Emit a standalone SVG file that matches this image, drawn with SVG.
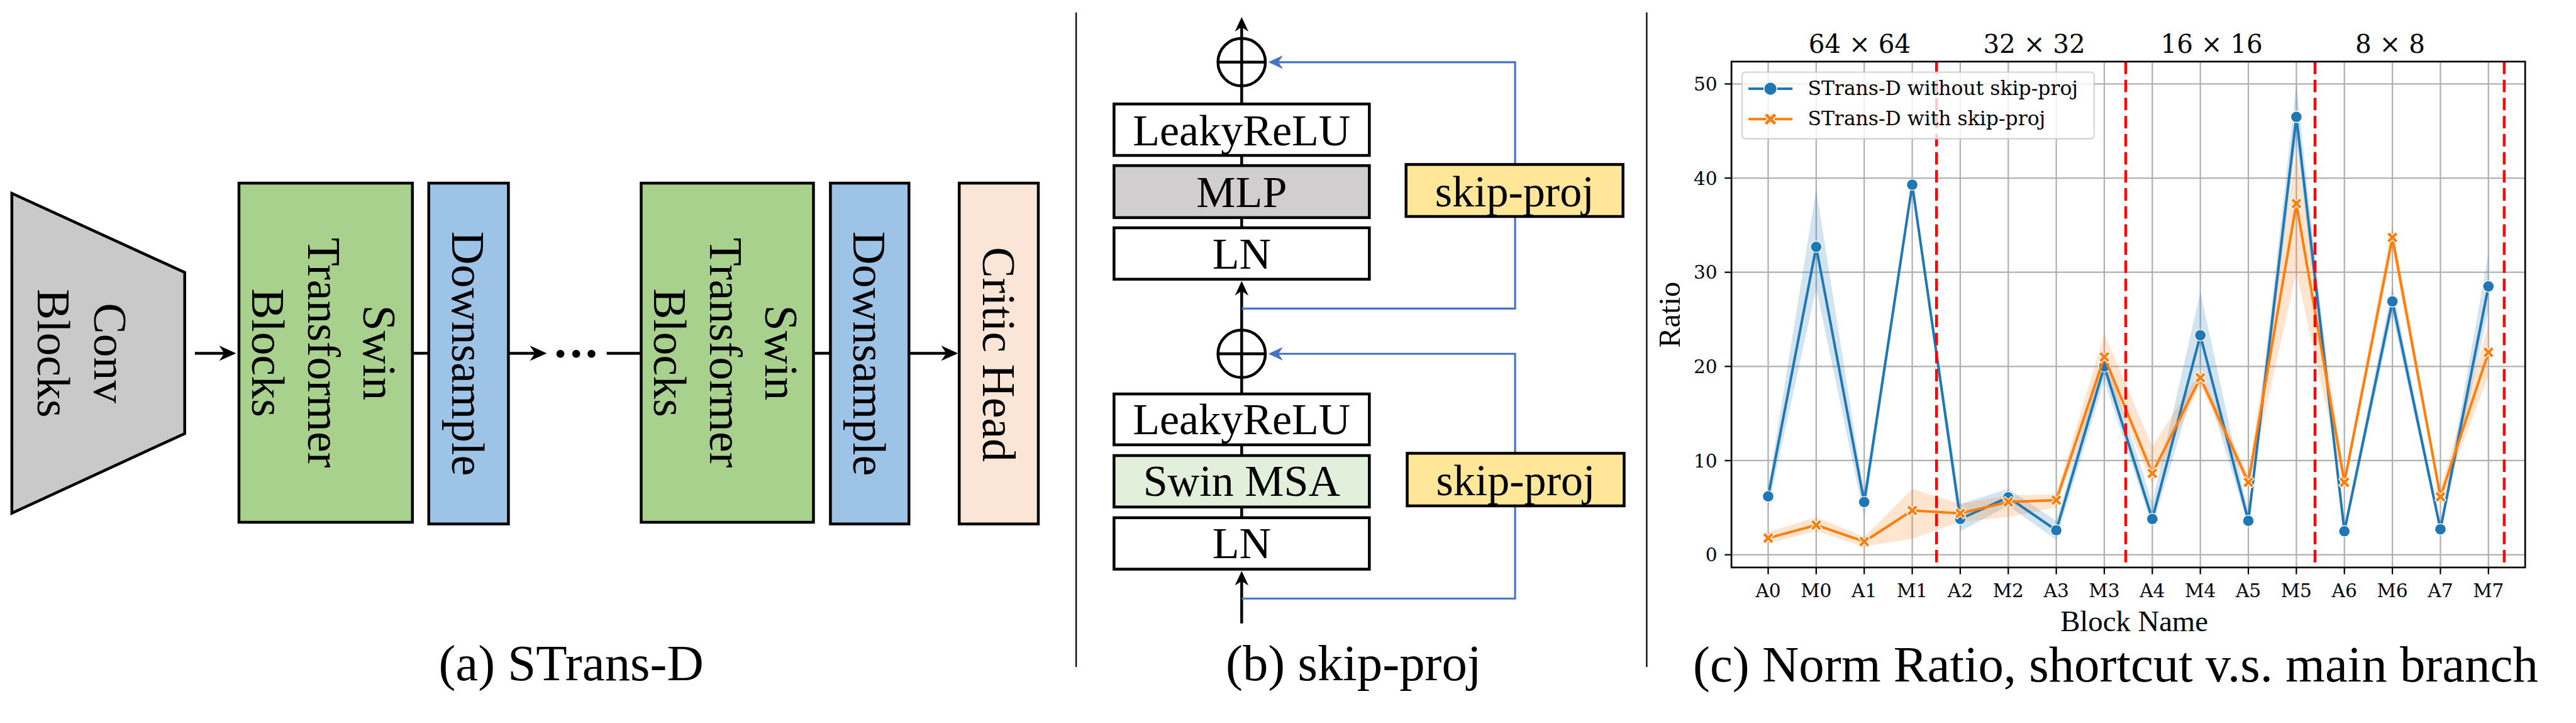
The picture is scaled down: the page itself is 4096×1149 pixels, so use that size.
<svg xmlns="http://www.w3.org/2000/svg" width="4096" height="1149" viewBox="0 0 4096 1149">
<defs>
<style>
.serif{font-family:"Liberation Serif","Times New Roman",serif;fill:#000}
.dv{font-family:"DejaVu Serif",serif;fill:#000}
.bx{stroke:#000;stroke-width:5}
.ln{stroke:#000;stroke-width:5;fill:none}
.bl{stroke:#4472c4;stroke-width:3.5;fill:none}
.grid{stroke:#b0b0b0;stroke-width:2.5}
.red{stroke:#ff0000;stroke-width:5;stroke-dasharray:22 10}
.blab{font-size:82px}
.plab{font-size:78px}
.cap{font-size:90px}
.tick{font-size:33px}
</style>
<marker id="ahA" markerUnits="userSpaceOnUse" viewBox="-12 -15 34 30" refX="0" refY="0" markerWidth="34" markerHeight="30" orient="auto"><path d="M20,0 L-10,-13.5 L-1,0 L-10,13.5 Z" fill="#000"/></marker>
<marker id="ahB" markerUnits="userSpaceOnUse" viewBox="-10 -14 30 28" refX="0" refY="0" markerWidth="30" markerHeight="28" orient="auto"><path d="M18,0 L-8,-12 L0,0 L-8,12 Z" fill="#000"/></marker>
<marker id="ahC" markerUnits="userSpaceOnUse" viewBox="-10 -14 30 28" refX="0" refY="0" markerWidth="30" markerHeight="28" orient="auto"><path d="M18,0 L-8,-12 L0,0 L-8,12 Z" fill="#4472c4"/></marker>
<path id="xm" d="M-10,-5.5 L-5.5,-10 L0,-4.5 L5.5,-10 L10,-5.5 L4.5,0 L10,5.5 L5.5,10 L0,4.5 L-5.5,10 L-10,5.5 L-4.5,0 Z" fill="#ff7f0e" stroke="#fff" stroke-width="1.5"/>
<circle id="cm" r="10" fill="#1f77b4" stroke="#fff" stroke-width="1.5"/>
</defs>
<rect x="0" y="0" width="4096" height="1149" fill="#fff"/>
<g transform="scale(0.898246)">

<!-- ===== Panel (a) connectors ===== -->
<g id="connectors-a">
<path class="ln" d="M345,625 H398" marker-end="url(#ahA)"/>
<path class="ln" d="M730,625 H759"/>
<path class="ln" d="M900,625 H948" marker-end="url(#ahA)"/>
<circle cx="992" cy="626" r="7" fill="#000"/>
<circle cx="1020" cy="626" r="7" fill="#000"/>
<circle cx="1047" cy="626" r="7" fill="#000"/>
<path class="ln" d="M1074,625 H1135"/>
<path class="ln" d="M1440,625 H1470"/>
<path class="ln" d="M1609,625 H1676" marker-end="url(#ahA)"/>
</g>

<!-- ===== Panel (a) nodes ===== -->
<g id="n-conv">
<polygon class="bx" points="21,342 327,482 327,767 21,908" fill="#c9c9c9"/>
<text class="serif blab" text-anchor="middle" transform="translate(167,625) rotate(90)">Conv</text>
<text class="serif blab" text-anchor="middle" transform="translate(67,625) rotate(90)">Blocks</text>
</g>
<g id="n-swin1">
<rect class="bx" x="423" y="324" width="307" height="600" fill="#a9d18e"/>
<text class="serif blab" text-anchor="middle" transform="translate(643,624) rotate(90)">Swin</text>
<text class="serif blab" text-anchor="middle" transform="translate(545,624) rotate(90)">Transformer</text>
<text class="serif blab" text-anchor="middle" transform="translate(446,624) rotate(90)">Blocks</text>
</g>
<g id="n-down1">
<rect class="bx" x="759" y="324" width="141" height="603" fill="#9dc3e6"/>
<text class="serif blab" text-anchor="middle" transform="translate(801,625.5) rotate(90)">Downsample</text>
</g>
<g id="n-swin2">
<rect class="bx" x="1135" y="324" width="305" height="600" fill="#a9d18e"/>
<text class="serif blab" text-anchor="middle" transform="translate(1355,624) rotate(90)">Swin</text>
<text class="serif blab" text-anchor="middle" transform="translate(1257,624) rotate(90)">Transformer</text>
<text class="serif blab" text-anchor="middle" transform="translate(1158,624) rotate(90)">Blocks</text>
</g>
<g id="n-down2">
<rect class="bx" x="1470" y="324" width="139" height="603" fill="#9dc3e6"/>
<text class="serif blab" text-anchor="middle" transform="translate(1511,625.5) rotate(90)">Downsample</text>
</g>
<g id="n-critic">
<rect class="bx" x="1698" y="324" width="140" height="603" fill="#fbe5d6"/>
<text class="serif blab" text-anchor="middle" transform="translate(1740,627) rotate(90)">Critic Head</text>
</g>
<text class="serif cap" x="1011" y="1203" text-anchor="middle">(a) STrans-D</text>

<!-- dividers -->
<line x1="1905" y1="22" x2="1905" y2="1180" stroke="#000" stroke-width="2.5"/>
<line x1="2915" y1="22" x2="2915" y2="1180" stroke="#000" stroke-width="2.5"/>

<!-- ===== Panel (b) connectors ===== -->
<g id="connectors-b">
<path class="ln" d="M2198,1103 V1028" marker-end="url(#ahB)"/>
<path class="ln" d="M2198,916 V515" marker-end="url(#ahB)"/>
<path class="ln" d="M2198,403 V48" marker-end="url(#ahB)"/>
<path class="bl" d="M2198,546 H2682 V383"/>
<path class="bl" d="M2682,291 V110 H2263" marker-end="url(#ahC)"/>
<path class="bl" d="M2198,1059 H2682 V895"/>
<path class="bl" d="M2682,802 V626 H2263" marker-end="url(#ahC)"/>
</g>

<!-- ===== Panel (b) nodes ===== -->
<g id="n-add1">
<circle cx="2198" cy="110" r="42" fill="none" stroke="#000" stroke-width="5"/>
<line x1="2156" y1="110" x2="2240" y2="110" stroke="#000" stroke-width="5"/>
</g>
<g id="n-lrelu1">
<rect class="bx" x="1972" y="184" width="452" height="91" fill="#fff"/>
<text class="serif plab" x="2198" y="257" text-anchor="middle">LeakyReLU</text>
</g>
<g id="n-mlp">
<rect class="bx" x="1972" y="293" width="452" height="92" fill="#d0cece"/>
<text class="serif plab" x="2198" y="366" text-anchor="middle">MLP</text>
</g>
<g id="n-ln1">
<rect class="bx" x="1972" y="403" width="452" height="91" fill="#fff"/>
<text class="serif plab" x="2198" y="475" text-anchor="middle">LN</text>
</g>
<g id="n-add2">
<circle cx="2198" cy="626" r="42" fill="none" stroke="#000" stroke-width="5"/>
<line x1="2156" y1="626" x2="2240" y2="626" stroke="#000" stroke-width="5"/>
</g>
<g id="n-lrelu2">
<rect class="bx" x="1972" y="697" width="452" height="90" fill="#fff"/>
<text class="serif plab" x="2198" y="768" text-anchor="middle">LeakyReLU</text>
</g>
<g id="n-msa">
<rect class="bx" x="1972" y="806" width="452" height="91" fill="#e2efda"/>
<text class="serif plab" x="2198" y="877" text-anchor="middle">Swin MSA</text>
</g>
<g id="n-ln2">
<rect class="bx" x="1972" y="916" width="452" height="91" fill="#fff"/>
<text class="serif plab" x="2198" y="988" text-anchor="middle">LN</text>
</g>
<g id="n-skip1">
<rect class="bx" x="2489" y="291" width="384" height="92" fill="#ffe699"/>
<text class="serif plab" x="2681" y="365" text-anchor="middle">skip-proj</text>
</g>
<g id="n-skip2">
<rect class="bx" x="2491" y="802" width="384" height="93" fill="#ffe699"/>
<text class="serif plab" x="2683" y="876" text-anchor="middle">skip-proj</text>
</g>
<text class="serif cap" x="2396" y="1203" text-anchor="middle">(b) skip-proj</text>

<!-- ===== Panel (c) chart ===== -->
<g id="chart">
<g id="grid">
<line class="grid" x1="3130" y1="109" x2="3130" y2="1004"/>
<line class="grid" x1="3215" y1="109" x2="3215" y2="1004"/>
<line class="grid" x1="3300" y1="109" x2="3300" y2="1004"/>
<line class="grid" x1="3385" y1="109" x2="3385" y2="1004"/>
<line class="grid" x1="3470" y1="109" x2="3470" y2="1004"/>
<line class="grid" x1="3555" y1="109" x2="3555" y2="1004"/>
<line class="grid" x1="3640" y1="109" x2="3640" y2="1004"/>
<line class="grid" x1="3725" y1="109" x2="3725" y2="1004"/>
<line class="grid" x1="3810" y1="109" x2="3810" y2="1004"/>
<line class="grid" x1="3895" y1="109" x2="3895" y2="1004"/>
<line class="grid" x1="3980" y1="109" x2="3980" y2="1004"/>
<line class="grid" x1="4065" y1="109" x2="4065" y2="1004"/>
<line class="grid" x1="4150" y1="109" x2="4150" y2="1004"/>
<line class="grid" x1="4235" y1="109" x2="4235" y2="1004"/>
<line class="grid" x1="4320" y1="109" x2="4320" y2="1004"/>
<line class="grid" x1="4405" y1="109" x2="4405" y2="1004"/>
<line class="grid" x1="3065" y1="981.5" x2="4470" y2="981.5"/>
<line class="grid" x1="3065" y1="814.9" x2="4470" y2="814.9"/>
<line class="grid" x1="3065" y1="648.3" x2="4470" y2="648.3"/>
<line class="grid" x1="3065" y1="481.7" x2="4470" y2="481.7"/>
<line class="grid" x1="3065" y1="315.1" x2="4470" y2="315.1"/>
<line class="grid" x1="3065" y1="148.5" x2="4470" y2="148.5"/>
</g>
<polygon fill="#1f77b4" fill-opacity="0.2" points="3130,861.5 3215,335.1 3300,873.2 3385,318.4 3470,891.5 3555,864.9 3640,921.5 3725,623.3 3810,889.9 3895,516.7 3980,906.5 4065,148.5 4150,931.5 4235,506.7 4320,928.2 4405,448.4 4405,548.3 4320,944.8 4235,556.7 4150,948.2 4065,248.5 3980,931.5 3895,648.3 3810,931.5 3725,673.3 3640,954.8 3555,894.9 3470,939.9 3385,335.1 3300,914.9 3215,510 3130,898.2"/>
<polygon fill="#ff7f0e" fill-opacity="0.2" points="3130,941.5 3215,914.9 3300,949.8 3385,864.9 3470,891.5 3555,876.5 3640,874.9 3725,590 3810,789.9 3895,656.6 3980,839.9 4065,265.1 4150,839.9 4235,398.4 4320,864.9 4405,573.3 4405,665 4320,889.9 4235,440.1 4150,864.9 4065,481.7 3980,864.9 3895,681.6 3810,856.6 3725,656.6 3640,898.2 3555,914.9 3470,923.2 3385,953.2 3300,966.5 3215,939.9 3130,961.5"/>
<polyline fill="none" stroke="#1f77b4" stroke-width="4.5" stroke-linejoin="round" points="3130,878.2 3215,436.7 3300,888.2 3385,326.8 3470,918.2 3555,879.9 3640,938.2 3725,648.3 3810,918.2 3895,593.3 3980,921.5 4065,206.8 4150,939.9 4235,533.3 4320,936.5 4405,506.7"/>
<g>
<use href="#cm" x="3130" y="878.2"/><use href="#cm" x="3215" y="436.7"/><use href="#cm" x="3300" y="888.2"/><use href="#cm" x="3385" y="326.8"/>
<use href="#cm" x="3470" y="918.2"/><use href="#cm" x="3555" y="879.9"/><use href="#cm" x="3640" y="938.2"/><use href="#cm" x="3725" y="648.3"/>
<use href="#cm" x="3810" y="918.2"/><use href="#cm" x="3895" y="593.3"/><use href="#cm" x="3980" y="921.5"/><use href="#cm" x="4065" y="206.8"/>
<use href="#cm" x="4150" y="939.9"/><use href="#cm" x="4235" y="533.3"/><use href="#cm" x="4320" y="936.5"/><use href="#cm" x="4405" y="506.7"/>
</g>
<polyline fill="none" stroke="#ff7f0e" stroke-width="4.5" stroke-linejoin="round" points="3130,952 3215,929 3300,958.2 3385,903.2 3470,908.2 3555,888.2 3640,884.9 3725,631.6 3810,837.4 3895,668.3 3980,853.2 4065,360.1 4150,853.2 4235,420.1 4320,879 4405,623.3"/>
<g>
<use href="#xm" x="3130" y="952"/><use href="#xm" x="3215" y="929"/><use href="#xm" x="3300" y="958.2"/><use href="#xm" x="3385" y="903.2"/>
<use href="#xm" x="3470" y="908.2"/><use href="#xm" x="3555" y="888.2"/><use href="#xm" x="3640" y="884.9"/><use href="#xm" x="3725" y="631.6"/>
<use href="#xm" x="3810" y="837.4"/><use href="#xm" x="3895" y="668.3"/><use href="#xm" x="3980" y="853.2"/><use href="#xm" x="4065" y="360.1"/>
<use href="#xm" x="4150" y="853.2"/><use href="#xm" x="4235" y="420.1"/><use href="#xm" x="4320" y="879"/><use href="#xm" x="4405" y="623.3"/>
</g>
<line class="red" x1="3428" y1="109" x2="3428" y2="1005"/>
<line class="red" x1="3763" y1="109" x2="3763" y2="1005"/>
<line class="red" x1="4098" y1="109" x2="4098" y2="1005"/>
<line class="red" x1="4433" y1="109" x2="4433" y2="1005"/>
<rect x="3065" y="109" width="1405" height="895" fill="none" stroke="#000" stroke-width="3"/>
<g stroke="#000" stroke-width="2.5">
<line x1="3053" y1="981.5" x2="3065" y2="981.5"/><line x1="3053" y1="814.9" x2="3065" y2="814.9"/><line x1="3053" y1="648.3" x2="3065" y2="648.3"/>
<line x1="3053" y1="481.7" x2="3065" y2="481.7"/><line x1="3053" y1="315.1" x2="3065" y2="315.1"/><line x1="3053" y1="148.5" x2="3065" y2="148.5"/>
<line x1="3130" y1="1004" x2="3130" y2="1016"/><line x1="3215" y1="1004" x2="3215" y2="1016"/><line x1="3300" y1="1004" x2="3300" y2="1016"/><line x1="3385" y1="1004" x2="3385" y2="1016"/>
<line x1="3470" y1="1004" x2="3470" y2="1016"/><line x1="3555" y1="1004" x2="3555" y2="1016"/><line x1="3640" y1="1004" x2="3640" y2="1016"/><line x1="3725" y1="1004" x2="3725" y2="1016"/>
<line x1="3810" y1="1004" x2="3810" y2="1016"/><line x1="3895" y1="1004" x2="3895" y2="1016"/><line x1="3980" y1="1004" x2="3980" y2="1016"/><line x1="4065" y1="1004" x2="4065" y2="1016"/>
<line x1="4150" y1="1004" x2="4150" y2="1016"/><line x1="4235" y1="1004" x2="4235" y2="1016"/><line x1="4320" y1="1004" x2="4320" y2="1016"/><line x1="4405" y1="1004" x2="4405" y2="1016"/>
</g>
<g class="dv tick" text-anchor="end">
<text x="3040" y="993.5">0</text><text x="3040" y="826.9">10</text><text x="3040" y="660.3">20</text>
<text x="3040" y="493.7">30</text><text x="3040" y="327.1">40</text><text x="3040" y="160.5">50</text>
</g>
<g class="dv tick" text-anchor="middle">
<text x="3130" y="1057">A0</text><text x="3215" y="1057">M0</text><text x="3300" y="1057">A1</text><text x="3385" y="1057">M1</text>
<text x="3470" y="1057">A2</text><text x="3555" y="1057">M2</text><text x="3640" y="1057">A3</text><text x="3725" y="1057">M3</text>
<text x="3810" y="1057">A4</text><text x="3895" y="1057">M4</text><text x="3980" y="1057">A5</text><text x="4065" y="1057">M5</text>
<text x="4150" y="1057">A6</text><text x="4235" y="1057">M6</text><text x="4320" y="1057">A7</text><text x="4405" y="1057">M7</text>
</g>
<g class="dv" font-size="45" text-anchor="middle">
<text x="3292" y="93">64 × 64</text><text x="3601" y="93">32 × 32</text>
<text x="3915" y="93">16 × 16</text><text x="4231" y="93">8 × 8</text>
</g>
<text class="serif" font-size="54" text-anchor="middle" transform="translate(2974,557) rotate(-90)">Ratio</text>
<text class="serif" font-size="52" x="3778" y="1117" text-anchor="middle">Block Name</text>
<g id="legend">
<rect x="3084" y="127.5" width="623" height="118" rx="6" fill="#fff" fill-opacity="0.8" stroke="#cccccc" stroke-width="2"/>
<line x1="3095" y1="157" x2="3173" y2="157" stroke="#1f77b4" stroke-width="4.5"/>
<circle cx="3134" cy="157" r="11.5" fill="#1f77b4" stroke="#fff" stroke-width="1.5"/>
<text class="dv" font-size="35" x="3200" y="168">STrans-D without skip-proj</text>
<line x1="3095" y1="210.7" x2="3173" y2="210.7" stroke="#ff7f0e" stroke-width="4.5"/>
<use href="#xm" transform="translate(3134,210.7) scale(1.15)"/>
<text class="dv" font-size="35" x="3200" y="222">STrans-D with skip-proj</text>
</g>
</g>
<text class="serif cap" x="3745" y="1206" text-anchor="middle">(c) Norm Ratio, shortcut v.s. main branch</text>
</g>
</svg>
